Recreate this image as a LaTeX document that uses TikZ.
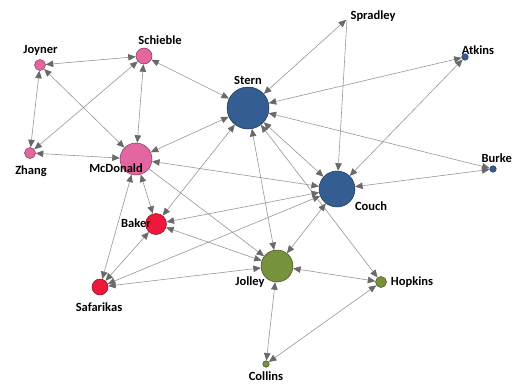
\documentclass[tikz,border=0pt]{standalone}
\usepackage{fontspec}
\setmainfont{Carlito}
\usetikzlibrary{arrows.meta}
\definecolor{pinkn}{RGB}{228,102,160}
\definecolor{bluen}{RGB}{52,94,146}
\definecolor{redn}{RGB}{238,24,60}
\definecolor{greenn}{RGB}{118,146,60}
\definecolor{edgegray}{RGB}{150,150,150}
\definecolor{tipgray}{RGB}{105,105,105}
\begin{document}
\begin{tikzpicture}[x=1pt,y=-1pt,
  vtx/.style={circle,inner sep=0pt,draw=#1!55!black,fill=#1,line width=0.5pt},
  lbl/.style={font=\bfseries\fontsize{12.5}{14}\selectfont,inner sep=0pt,text=black},
  tip/.tip={Triangle[length=7.5pt,width=6.5pt,color=tipgray]},
  edge/.style={draw=edgegray,line width=0.6pt,tip-tip},
  oneway/.style={draw=edgegray,line width=0.6pt,-tip}]
\useasboundingbox (0,0) rectangle (513,383);
% nodes
\node[vtx=pinkn,minimum size=11pt] (joyner) at (40,65) {};
\node[vtx=pinkn,minimum size=16pt] (schieble) at (144,56) {};
\node[vtx=pinkn,minimum size=11pt] (zhang) at (30,153) {};
\node[vtx=pinkn,minimum size=32pt] (mcdonald) at (136,159) {};
\node[vtx=bluen,minimum size=42pt] (stern) at (248,108) {};
\node[circle,inner sep=0pt,minimum size=2pt] (spradley) at (347,19) {};
\node[vtx=bluen,minimum size=6.5pt] (atkins) at (465,57) {};
\node[vtx=bluen,minimum size=6.5pt] (burke) at (493,169) {};
\node[vtx=bluen,minimum size=36pt] (couch) at (337,189) {};
\node[vtx=redn,minimum size=21pt] (baker) at (156,224) {};
\node[vtx=redn,minimum size=16pt] (safarikas) at (100,287) {};
\node[vtx=greenn,minimum size=32pt] (jolley) at (277,266) {};
\node[vtx=greenn,minimum size=11pt] (hopkins) at (381,282) {};
\node[vtx=greenn,minimum size=6.5pt] (collins) at (266,364) {};
% edges
\draw[edge] (joyner) -- (schieble);
\draw[edge] (joyner) -- (zhang);
\draw[edge] (joyner) -- (mcdonald);
\draw[edge] (schieble) -- (zhang);
\draw[edge] (schieble) -- (mcdonald);
\draw[edge] (schieble) -- (stern);
\draw[edge] (zhang) -- (mcdonald);
\draw[edge] (mcdonald) -- (stern);
\draw[edge] (mcdonald) -- (couch);
\draw[edge] (mcdonald) -- (baker);
\draw[edge] (mcdonald) -- (safarikas);
\draw[oneway] (mcdonald) -- (jolley);
\draw[edge] (stern) -- (spradley);
\draw[edge] (stern) -- (atkins);
\draw[edge] (stern) -- (burke);
\draw[edge] (stern) -- (couch);
\draw[edge] (stern) -- (baker);
\draw[edge] (stern) -- (jolley);
\draw[edge] (stern) -- (hopkins);
\draw[oneway] (spradley) -- (couch);
\draw[edge] (atkins) -- (couch);
\draw[edge] (burke) -- (couch);
\draw[edge] (couch) -- (baker);
\draw[edge] (couch) -- (safarikas);
\draw[edge] (couch) -- (jolley);
\draw[edge] (baker) -- (safarikas);
\draw[edge] (baker) -- (jolley);
\draw[edge] (safarikas) -- (jolley);
\draw[edge] (jolley) -- (hopkins);
\draw[edge] (jolley) -- (collins);
\draw[edge] (hopkins) -- (collins);
% labels
\node[lbl] (ljoyner) at (40.5,50) {Joyner};
\node[lbl] (lschieble) at (160,40) {Schieble};
\node[lbl] (lzhang) at (31,171) {Zhang};
\node[lbl] (lmcdonald) at (116,168) {McDonald};
\node[lbl] (lstern) at (248,80) {Stern};
\node[lbl] (lspradley) at (373,16) {Spradley};
\node[lbl] (latkins) at (478,50) {Atkins};
\node[lbl,anchor=east] (lburke) at (512,158) {Burke};
\node[lbl] (lcouch) at (371,206) {Couch};
\node[lbl] (lbaker) at (136,223) {Baker};
\node[lbl] (lsafarikas) at (99,307) {Safarikas};
\node[lbl] (ljolley) at (250,282) {Jolley};
\node[lbl] (lhopkins) at (412,282) {Hopkins};
\node[lbl] (lcollins) at (266,376) {Collins};
\end{tikzpicture}
\end{document}
